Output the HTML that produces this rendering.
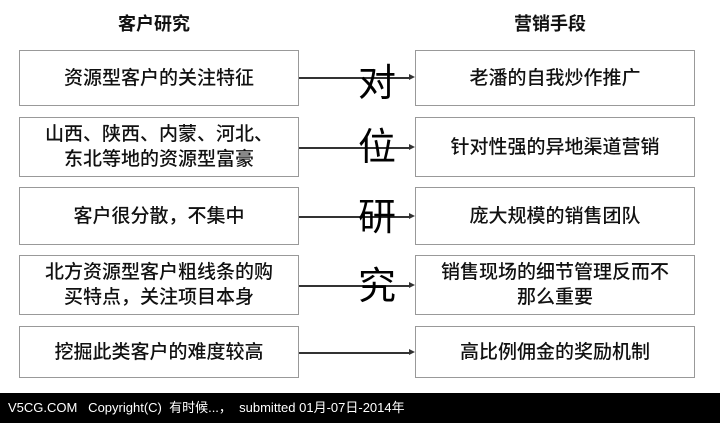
<!DOCTYPE html><html><head><meta charset="utf-8"><style>
body{margin:0;width:720px;height:423px;background:#fff;position:relative;overflow:hidden;font-family:"Liberation Sans","Noto Sans CJK SC",sans-serif;}
.b{position:absolute;border:1.5px solid #999;background:#fff;box-sizing:border-box;display:flex;align-items:center;justify-content:center;text-align:center;font-size:19px;line-height:25px;color:#111;font-weight:500}
.l{left:19px;width:280px}.r{left:415px;width:280px}
.h{position:absolute;top:10px;font-size:18px;font-weight:bold;color:#111}
.a{position:absolute;left:299px;width:110px;height:1.5px;background:#333}
.a:after{content:"";position:absolute;right:-6px;top:-3px;border-left:6px solid #333;border-top:3.5px solid transparent;border-bottom:3.5px solid transparent}
.v{position:absolute;left:355px;width:44px;text-align:center;font-size:38px;color:#000;background:#fff;line-height:44px}
.f{position:absolute;left:0;top:393px;width:720px;height:30px;background:#000;color:#fff;font-size:13px;line-height:30px;padding-left:8px;box-sizing:border-box}
</style></head><body>
<div class="h" style="left:118px">客户研究</div>
<div class="h" style="left:514px">营销手段</div>
<div class="b l" style="top:50px;height:56px">资源型客户的关注特征</div>
<div class="b l" style="top:117px;height:60px">山西、陕西、内蒙、河北、<br>东北等地的资源型富豪</div>
<div class="b l" style="top:187px;height:58px">客户很分散，不集中</div>
<div class="b l" style="top:255px;height:60px">北方资源型客户粗线条的购<br>买特点，关注项目本身</div>
<div class="b l" style="top:326px;height:52px">挖掘此类客户的难度较高</div>
<div class="b r" style="top:50px;height:56px">老潘的自我炒作推广</div>
<div class="b r" style="top:117px;height:60px">针对性强的异地渠道营销</div>
<div class="b r" style="top:187px;height:58px">庞大规模的销售团队</div>
<div class="b r" style="top:255px;height:60px">销售现场的细节管理反而不<br>那么重要</div>
<div class="b r" style="top:326px;height:52px">高比例佣金的奖励机制</div>
<div class="a" style="top:77px"></div>
<div class="a" style="top:147px"></div>
<div class="a" style="top:216px"></div>
<div class="a" style="top:285px"></div>
<div class="a" style="top:352px"></div>
<div class="v" style="top:62px;background:transparent">对</div>
<div class="v" style="top:126px;background:transparent">位</div>
<div class="v" style="top:196px;background:transparent">研</div>
<div class="v" style="top:265px;background:transparent">究</div>
<div class="f">V5CG.COM&nbsp;&nbsp; Copyright(C)&nbsp; 有时候...，&nbsp; submitted 01月-07日-2014年</div>
</body></html>
